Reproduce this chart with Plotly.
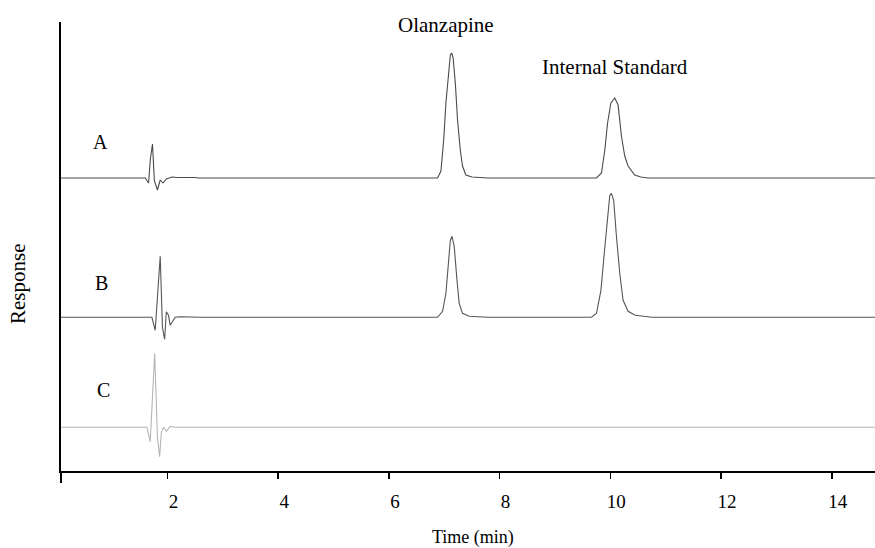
import plotly.graph_objects as go

# --- data (response in arbitrary units relative to each baseline) ---
time_A = [0.0, 1.55, 1.60, 1.66, 1.69, 1.73, 1.765, 1.82, 1.87, 1.92, 1.98, 2.085, 2.18, 2.51, 2.55,
          6.80, 6.88, 6.94, 6.99, 7.03, 7.08, 7.11, 7.135, 7.16, 7.20, 7.24, 7.29, 7.33, 7.39, 7.50, 7.79,
          9.65, 9.75, 9.84, 9.90, 9.95, 10.01, 10.08, 10.14, 10.20, 10.26, 10.32, 10.44, 10.55, 10.68, 14.8]
resp_A = [0, 0, 0, -5, 18, 34, -3, -12, -2, -5, -1, 1, 0.5, 0.5, 0,
          0, 0, 7, 38, 75, 108, 123, 125, 120, 95, 58, 28, 12, 3, 1, 0,
          0, 0, 5, 28, 55, 75, 80, 73, 42, 22, 12, 3, 1, 0, 0]

time_B = [0.0, 1.66, 1.72, 1.78, 1.82, 1.87, 1.91, 1.95, 1.98, 2.02, 2.05, 2.14, 2.23, 2.6,
          6.80, 6.88, 6.97, 7.03, 7.08, 7.11, 7.14, 7.18, 7.23, 7.27, 7.33, 7.45, 7.79,
          9.60, 9.66, 9.75, 9.83, 9.89, 9.95, 9.99, 10.02, 10.06, 10.11, 10.17, 10.23, 10.32, 10.45, 10.56, 10.75, 14.8]
resp_B = [0, 0, 0, -13, 20, 61, -10, -22, 5.5, 2, -8, 0, 0.5, 0,
          0, 0, 6, 24, 57, 77, 81, 71, 37, 14, 4, 1, 0,
          0, 0, 4, 27, 64, 104, 122, 124, 117, 81, 44, 17, 6, 2, 1, 0, 0]

time_C = [0.0, 1.58, 1.63, 1.69, 1.73, 1.77, 1.82, 1.86, 1.89, 1.93, 1.98, 2.05, 2.14, 14.8]
resp_C = [0, 0, 0, -14.5, 30, 74, -10, -29.5, -5, 0, -4, 1, 0, 0]

trace_labels = ["A", "B", "C"]
peak_labels = ["Olanzapine", "Internal Standard"]
x_tick_values = [2, 4, 6, 8, 10, 12, 14]
x_tick_text = ["2", "4", "6", "8", "10", "12", "14"]

# vertical offsets (layout only)
offsets = {"A": 293, "B": 153.7, "C": 43.7}
colors = {"A": "#4a4a4a", "B": "#555555", "C": "#b5b5b5"}

FONT = "Liberation Serif, Times New Roman, serif"

fig = go.Figure()
for name, t, r in [("A", time_A, resp_A), ("B", time_B, resp_B), ("C", time_C, resp_C)]:
    fig.add_trace(go.Scatter(
        x=t, y=[v + offsets[name] for v in r], mode="lines", name=name,
        line=dict(color=colors[name], width=1.1), showlegend=False, hoverinfo="skip"))


def note(x, y, text, size=20, angle=0):
    fig.add_annotation(xref="paper", yref="paper", x=x, y=y, text=text, showarrow=False,
                       xanchor="center", yanchor="middle", textangle=angle,
                       font=dict(family=FONT, size=size, color="black"))


# trace letter labels (paper coordinates)
label_pos = {"A": (0.048, 0.733), "B": (0.050, 0.419), "C": (0.052, 0.180)}
for name in trace_labels:
    note(*label_pos[name], name)

note(0.473, 0.993, peak_labels[0], size=21)
note(0.681, 0.90, peak_labels[1], size=21)

# axis titles as annotations
note(0.506, -0.149, "Time (min)", size=18)
note(-0.0528, 0.4165, "Response", size=21, angle=-90)

# y axis line continuing slightly below the x axis (as in the original)
fig.add_shape(type="line", xref="paper", yref="paper", x0=0, x1=0, y0=0, y1=-12 / 449,
              line=dict(color="black", width=2))

fig.update_layout(
    width=875, height=548,
    margin=dict(l=61, r=0, t=22, b=77),
    paper_bgcolor="white", plot_bgcolor="white",
    font=dict(family=FONT, size=19, color="black"),
    xaxis=dict(range=[0.078, 14.78], showgrid=False, zeroline=False, showline=True,
               linecolor="black", linewidth=2, ticks="outside", ticklen=6, tickwidth=1.5,
               tickcolor="black", tickvals=x_tick_values, ticktext=x_tick_text,
               tickfont=dict(family=FONT, size=19), ticklabelshift=6, ticklabelstandoff=6,
               automargin=False),
    yaxis=dict(range=[0, 449], showgrid=False, zeroline=False, showline=True,
               linecolor="black", linewidth=2, ticks="", showticklabels=False,
               automargin=False),
)

fig.write_html(
    "out.html",
    config={"displayModeBar": False, "staticPlot": True},
    post_script="document.body.style.margin='0';document.body.style.overflow='hidden';"
                "document.documentElement.style.overflow='hidden';",
)
